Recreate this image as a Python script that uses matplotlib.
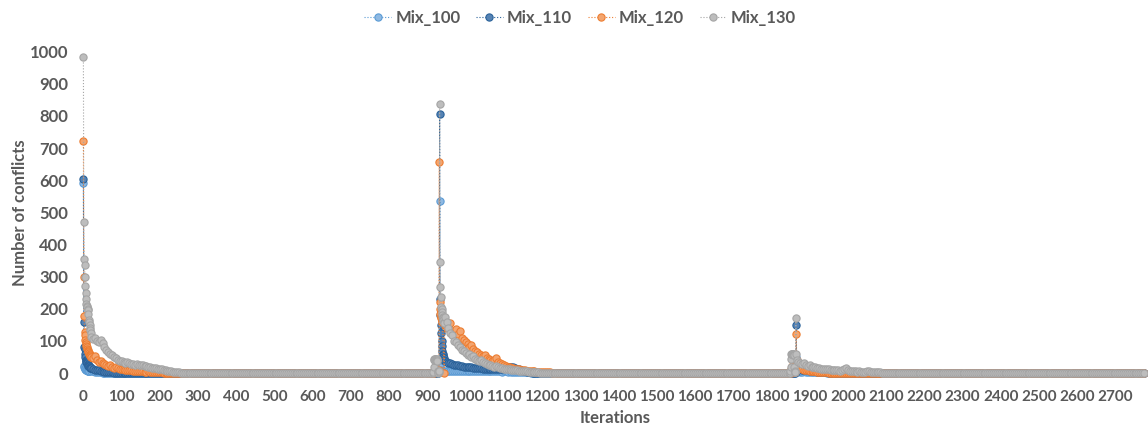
import numpy as np
import matplotlib.pyplot as plt

plt.rcParams['font.family'] = ['Lato', 'DejaVu Sans']

# bursts of each run: (first iteration, iteration step)
mix100 = [
    (0, 1, [590, 22, 18, 15, 14, 12, 10, 9, 8, 8, 8, 7, 7, 6, 6]),
    (15, 5, [6, 5, 5, 4, 3, 3, 2, 1]),
    (928, 1, [0, 3, 8, 20, 536, 31, 20, 10, 7, 6, 6]),
    (940, 5, [7, 6, 6, 7, 6, 5, 6, 7, 6, 6, 5, 6, 6, 7, 6, 5, 6, 6, 5, 6, 6, 5,
              6, 5, 5, 6, 5, 5, 6, 5, 5, 4, 5, 5, 4, 5, 4, 4, 4, 3, 3, 3, 3, 2,
              2, 2, 1, 1, 1]),
    (1862, 1, [0, 2, 5, 51, 12, 8, 6, 5]),
    (1870, 5, [5, 4, 4, 5, 4, 3, 4, 3, 3, 3, 2, 3, 2, 2, 2, 1, 1, 1]),
]

mix110 = [
    (0, 1, [605, 158, 80, 75, 60, 50, 42, 38, 35, 33, 30, 28, 25, 23, 22, 21, 20, 18, 16, 15]),
    (20, 5, [15, 12, 10, 9, 8, 6, 5, 4, 3, 3, 2, 2, 1, 1]),
    (929, 1, [0, 2, 5, 805, 229, 180, 150, 124, 100, 85, 70, 60, 55, 50, 46, 42]),
    (945, 5, [38, 35, 32, 30, 28, 26, 25, 24, 22, 21, 20, 20, 19, 18, 18, 17, 16,
              16, 15, 15, 14, 14, 13, 13, 12, 12, 12, 11, 11, 12, 14, 15, 16, 18,
              20, 19, 18, 16, 14, 12, 9, 7, 5, 4, 3, 2, 1]),
    (1862, 1, [0, 2, 4, 150, 30, 24, 20, 18]),
    (1870, 5, [15, 12, 10, 9, 8, 8, 7, 6, 5, 5, 4, 4, 3, 3, 2, 2, 1, 1]),
]

mix120 = [
    (0, 1, [722, 300, 178, 128, 118, 103, 95, 90, 85, 80, 75, 72, 68, 64, 60, 62, 58, 55, 52, 50]),
    (20, 5, [50, 48, 52, 40, 35, 38, 30, 28, 25, 22, 24, 20, 17, 18, 15, 14, 12,
             11, 10, 9, 9, 8, 7, 7, 6, 6, 5, 5, 4, 4, 5, 4, 3, 3, 3, 2, 2, 2, 1, 1, 1]),
    (918, 1, [0, 4, 8, 10, 12, 10, 8, 6, 3, 2, 4, 5, 8, 657, 222, 200, 185, 175, 170, 165, 162, 160]),
    (945, 5, [150, 140, 145, 155, 130, 125, 138, 120, 130, 110, 103, 95, 90, 80, 88,
              75, 70, 65, 60, 55, 52, 56, 48, 45, 40, 38, 42, 46, 35, 30, 28, 25,
              22, 20, 18, 16, 15, 13, 12, 11, 10, 9, 8, 7, 7, 6, 5, 5, 4, 4, 3, 3,
              3, 2, 2, 2, 1, 1, 1, 1, 1]),
    (1850, 1, [0, 5, 12, 18, 22, 20, 12, 6, 3, 2, 2, 3, 5, 8, 10, 121, 40, 30, 25, 22]),
    (1870, 5, [20, 15, 12, 10, 9, 8, 7, 6, 5, 5, 4, 4, 3, 3, 2, 2, 1, 1]),
]

mix130 = [
    (0, 1, [985, 470, 355, 335, 300, 272, 250, 230, 215, 210, 205, 200, 195, 185, 165,
            160, 150, 140, 135, 125]),
    (20, 5, [112, 105, 108, 100, 96, 104, 92, 80, 72, 66, 60, 55, 50, 46, 42, 38, 36,
             34, 31, 33, 30, 28, 29, 26, 27, 25, 24, 25, 22, 21, 20, 19, 17, 16, 15,
             14, 13, 11, 10, 8, 7, 6, 5, 4, 4, 3, 2, 1]),
    (914, 1, [0, 2, 20, 42, 43, 44, 42, 44, 43, 41, 43, 40, 38, 5, 2, 0, 2, 5, 836,
              345, 268, 237, 206, 200, 190, 180, 175, 170, 165, 160, 155]),
    (945, 5, [175, 160, 140, 125, 118, 100, 95, 88, 80, 72, 70, 62, 55, 58, 50, 52,
              45, 42, 38, 40, 33, 30, 28, 26, 24, 22, 20, 21, 18, 16, 15, 14, 13, 12,
              11, 10, 9, 9, 8, 7, 6, 6, 5, 5, 4, 4, 3, 3, 2, 2, 1, 1]),
    (1848, 1, [0, 5, 20, 45, 58, 60, 60, 58, 60, 57, 59, 56, 20, 5, 2, 2, 170, 60, 40]),
    (1870, 5, [35, 30, 28, 32, 25, 22, 24, 20, 18, 19, 16, 15, 14, 13, 12, 14, 11, 10,
               9, 10, 8, 9, 7, 8, 12, 15, 10, 7, 6, 5, 5, 4, 6, 4, 3, 3, 5, 6, 4, 3,
               2, 2, 3, 2, 1, 1, 1]),
]

last_iter = 2775
names = ['Mix_100', 'Mix_110', 'Mix_120', 'Mix_130']
edge_colors = ['#5B9BD5', '#2A629A', '#ED7D31', '#A5A5A5']
face_colors = ['#8FB9E2', '#5683B4', '#F3A56F', '#BDBDBD']


def build_series(bursts):
    # runs between the bursts sit on zero
    xs, ys = [], []
    pos = 0
    for start, step, vals in bursts:
        if start > pos:
            gap = np.arange(pos, start, 5)
            xs.extend(gap)
            ys.extend([0] * len(gap))
        bx = start + step * np.arange(len(vals))
        xs.extend(bx)
        ys.extend(vals)
        pos = bx[-1] + 5
    tail = np.arange(pos, last_iter + 1, 5)
    xs.extend(tail)
    ys.extend([0] * len(tail))
    return np.array(xs), np.array(ys)


fig = plt.figure(figsize=(11.48, 4.30), dpi=100)
ax = fig.add_axes([83.4 / 1148, 1 - 373 / 430, (1146 - 83.4) / 1148, (373 - 51.7) / 430])

for data, name, ec, fc in zip([mix100, mix110, mix120, mix130], names, edge_colors, face_colors):
    x, y = build_series(data)
    ax.plot(x, y, linestyle=':', linewidth=0.8, color=ec, marker='o', markersize=5.2,
            markerfacecolor=fc, markeredgecolor=ec, markeredgewidth=0.8,
            label=name, clip_on=False)

ax.set_xlim(0, 2780)
ax.set_ylim(0, 1000)
ax.set_xticks(np.arange(0, 2701, 100))
ax.set_yticks(np.arange(0, 1001, 100))
for s in ax.spines.values():
    s.set_visible(False)
ax.tick_params(length=0, labelsize=12, labelcolor='#595959')
ax.tick_params(axis='x', pad=12, labelsize=11)
ax.tick_params(axis='y', pad=11)
for lab in ax.get_xticklabels() + ax.get_yticklabels():
    lab.set_fontweight('bold')

ax.set_xlabel('Iterations', fontsize=12, fontweight='bold', color='#595959')
ax.xaxis.set_label_coords(0.5, -0.115)
ax.set_ylabel('Number of conflicts', fontsize=12, fontweight='bold', color='#595959', labelpad=1)

leg = fig.legend(loc='center', bbox_to_anchor=(580 / 1148, 1 - 18 / 430), ncol=4,
                 frameon=False, handlelength=1.6, columnspacing=0.95, handletextpad=0.25,
                 prop={'size': 12, 'weight': 'bold'})
for t in leg.get_texts():
    t.set_color('#595959')

fig.savefig('out.png', dpi=100)
